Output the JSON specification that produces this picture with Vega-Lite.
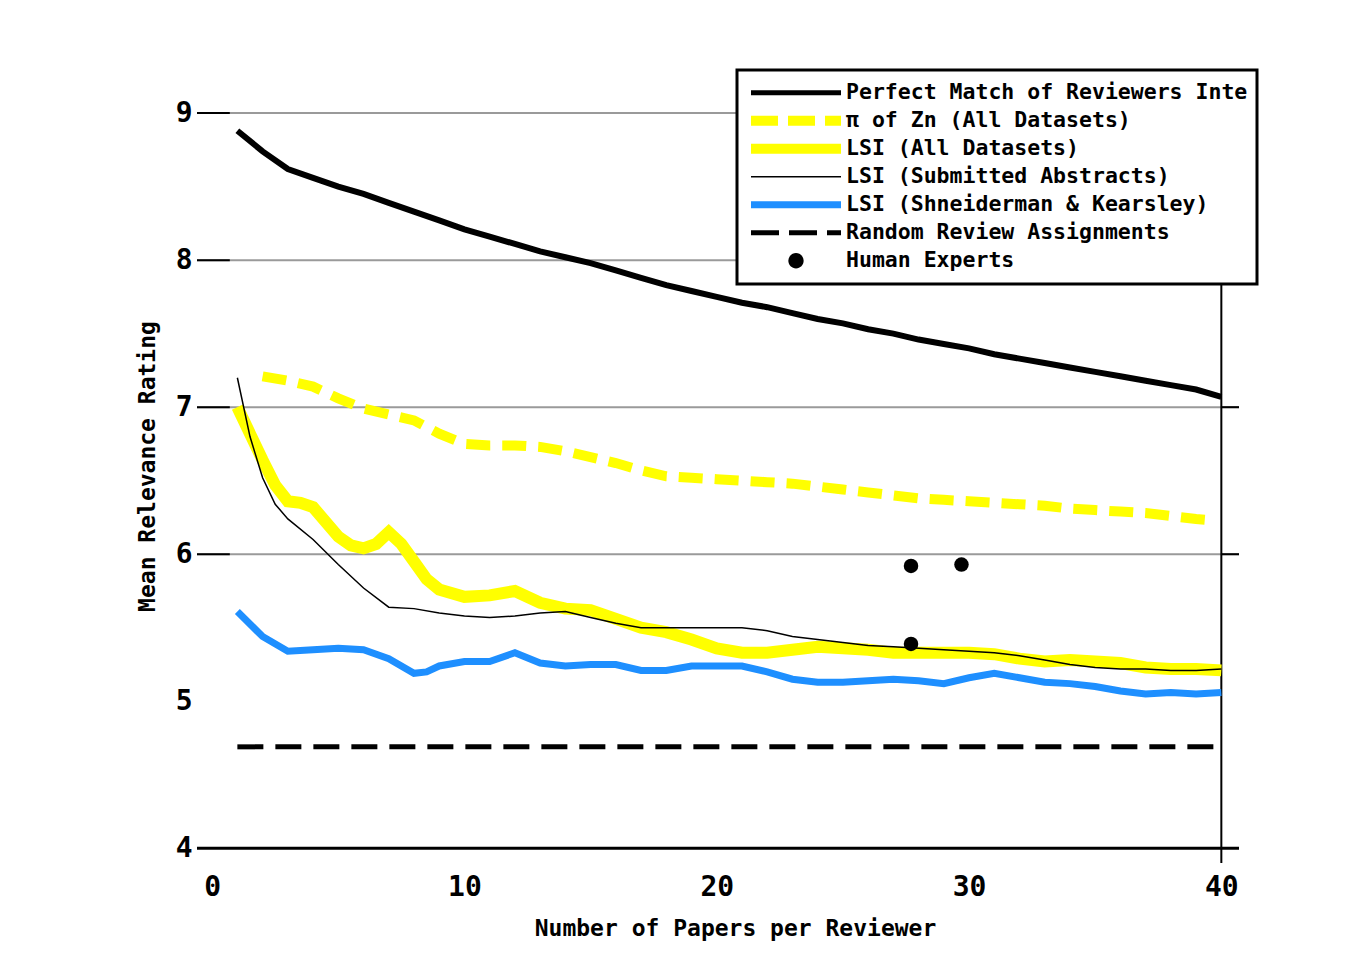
{
  "$schema": "https://vega.github.io/schema/vega-lite/v6.json",
  "width": 1042,
  "height": 794,
  "autosize": {"type": "none"},
  "padding": {"left": 197, "top": 69, "right": 128, "bottom": 94},
  "background": "white",
  "config": {"view": {"stroke": null}, "font": "DejaVu Sans Mono"},
  "datasets": {
    "grid": [{"y": 6}, {"y": 7}, {"y": 8}, {"y": 9}],
    "gridRight": [{"y": 6}, {"y": 7}],
    "perfect": [
      {"series": "Perfect Match of Reviewers Inte", "x": 1, "y": 8.88},
      {"series": "Perfect Match of Reviewers Inte", "x": 2, "y": 8.74},
      {"series": "Perfect Match of Reviewers Inte", "x": 3, "y": 8.62},
      {"series": "Perfect Match of Reviewers Inte", "x": 4, "y": 8.56},
      {"series": "Perfect Match of Reviewers Inte", "x": 5, "y": 8.5},
      {"series": "Perfect Match of Reviewers Inte", "x": 6, "y": 8.45},
      {"series": "Perfect Match of Reviewers Inte", "x": 7, "y": 8.39},
      {"series": "Perfect Match of Reviewers Inte", "x": 8, "y": 8.33},
      {"series": "Perfect Match of Reviewers Inte", "x": 9, "y": 8.27},
      {"series": "Perfect Match of Reviewers Inte", "x": 10, "y": 8.21},
      {"series": "Perfect Match of Reviewers Inte", "x": 11, "y": 8.16},
      {"series": "Perfect Match of Reviewers Inte", "x": 12, "y": 8.11},
      {"series": "Perfect Match of Reviewers Inte", "x": 13, "y": 8.06},
      {"series": "Perfect Match of Reviewers Inte", "x": 14, "y": 8.02},
      {"series": "Perfect Match of Reviewers Inte", "x": 15, "y": 7.98},
      {"series": "Perfect Match of Reviewers Inte", "x": 16, "y": 7.93},
      {"series": "Perfect Match of Reviewers Inte", "x": 17, "y": 7.88},
      {"series": "Perfect Match of Reviewers Inte", "x": 18, "y": 7.83},
      {"series": "Perfect Match of Reviewers Inte", "x": 19, "y": 7.79},
      {"series": "Perfect Match of Reviewers Inte", "x": 20, "y": 7.75},
      {"series": "Perfect Match of Reviewers Inte", "x": 21, "y": 7.71},
      {"series": "Perfect Match of Reviewers Inte", "x": 22, "y": 7.68},
      {"series": "Perfect Match of Reviewers Inte", "x": 23, "y": 7.64},
      {"series": "Perfect Match of Reviewers Inte", "x": 24, "y": 7.6},
      {"series": "Perfect Match of Reviewers Inte", "x": 25, "y": 7.57},
      {"series": "Perfect Match of Reviewers Inte", "x": 26, "y": 7.53},
      {"series": "Perfect Match of Reviewers Inte", "x": 27, "y": 7.5},
      {"series": "Perfect Match of Reviewers Inte", "x": 28, "y": 7.46},
      {"series": "Perfect Match of Reviewers Inte", "x": 29, "y": 7.43},
      {"series": "Perfect Match of Reviewers Inte", "x": 30, "y": 7.4},
      {"series": "Perfect Match of Reviewers Inte", "x": 31, "y": 7.36},
      {"series": "Perfect Match of Reviewers Inte", "x": 32, "y": 7.33},
      {"series": "Perfect Match of Reviewers Inte", "x": 33, "y": 7.3},
      {"series": "Perfect Match of Reviewers Inte", "x": 34, "y": 7.27},
      {"series": "Perfect Match of Reviewers Inte", "x": 35, "y": 7.24},
      {"series": "Perfect Match of Reviewers Inte", "x": 36, "y": 7.21},
      {"series": "Perfect Match of Reviewers Inte", "x": 37, "y": 7.18},
      {"series": "Perfect Match of Reviewers Inte", "x": 38, "y": 7.15},
      {"series": "Perfect Match of Reviewers Inte", "x": 39, "y": 7.12},
      {"series": "Perfect Match of Reviewers Inte", "x": 40, "y": 7.07}
    ],
    "pizn": [
      {"series": "π of Zn (All Datasets)", "x": 2, "y": 7.21},
      {"series": "π of Zn (All Datasets)", "x": 3, "y": 7.18},
      {"series": "π of Zn (All Datasets)", "x": 4, "y": 7.14},
      {"series": "π of Zn (All Datasets)", "x": 5, "y": 7.06},
      {"series": "π of Zn (All Datasets)", "x": 6, "y": 6.99},
      {"series": "π of Zn (All Datasets)", "x": 7, "y": 6.95},
      {"series": "π of Zn (All Datasets)", "x": 8, "y": 6.91},
      {"series": "π of Zn (All Datasets)", "x": 9, "y": 6.82},
      {"series": "π of Zn (All Datasets)", "x": 10, "y": 6.75},
      {"series": "π of Zn (All Datasets)", "x": 11, "y": 6.74},
      {"series": "π of Zn (All Datasets)", "x": 12, "y": 6.74},
      {"series": "π of Zn (All Datasets)", "x": 13, "y": 6.73},
      {"series": "π of Zn (All Datasets)", "x": 14, "y": 6.7},
      {"series": "π of Zn (All Datasets)", "x": 15, "y": 6.66},
      {"series": "π of Zn (All Datasets)", "x": 16, "y": 6.62},
      {"series": "π of Zn (All Datasets)", "x": 17, "y": 6.57},
      {"series": "π of Zn (All Datasets)", "x": 18, "y": 6.53},
      {"series": "π of Zn (All Datasets)", "x": 19, "y": 6.52},
      {"series": "π of Zn (All Datasets)", "x": 20, "y": 6.51},
      {"series": "π of Zn (All Datasets)", "x": 21, "y": 6.5},
      {"series": "π of Zn (All Datasets)", "x": 22, "y": 6.49},
      {"series": "π of Zn (All Datasets)", "x": 23, "y": 6.48},
      {"series": "π of Zn (All Datasets)", "x": 24, "y": 6.46},
      {"series": "π of Zn (All Datasets)", "x": 25, "y": 6.44},
      {"series": "π of Zn (All Datasets)", "x": 26, "y": 6.42},
      {"series": "π of Zn (All Datasets)", "x": 27, "y": 6.4},
      {"series": "π of Zn (All Datasets)", "x": 28, "y": 6.38},
      {"series": "π of Zn (All Datasets)", "x": 29, "y": 6.37},
      {"series": "π of Zn (All Datasets)", "x": 30, "y": 6.36},
      {"series": "π of Zn (All Datasets)", "x": 31, "y": 6.35},
      {"series": "π of Zn (All Datasets)", "x": 32, "y": 6.34},
      {"series": "π of Zn (All Datasets)", "x": 33, "y": 6.33},
      {"series": "π of Zn (All Datasets)", "x": 34, "y": 6.31},
      {"series": "π of Zn (All Datasets)", "x": 35, "y": 6.3},
      {"series": "π of Zn (All Datasets)", "x": 36, "y": 6.29},
      {"series": "π of Zn (All Datasets)", "x": 37, "y": 6.28},
      {"series": "π of Zn (All Datasets)", "x": 38, "y": 6.26},
      {"series": "π of Zn (All Datasets)", "x": 39, "y": 6.24},
      {"series": "π of Zn (All Datasets)", "x": 39.7, "y": 6.23}
    ],
    "lsiall": [
      {"series": "LSI (All Datasets)", "x": 1, "y": 7.0},
      {"series": "LSI (All Datasets)", "x": 2, "y": 6.64},
      {"series": "LSI (All Datasets)", "x": 2.5, "y": 6.47},
      {"series": "LSI (All Datasets)", "x": 3, "y": 6.36},
      {"series": "LSI (All Datasets)", "x": 3.5, "y": 6.35},
      {"series": "LSI (All Datasets)", "x": 4, "y": 6.32},
      {"series": "LSI (All Datasets)", "x": 4.5, "y": 6.22},
      {"series": "LSI (All Datasets)", "x": 5, "y": 6.12},
      {"series": "LSI (All Datasets)", "x": 5.5, "y": 6.06},
      {"series": "LSI (All Datasets)", "x": 6, "y": 6.04},
      {"series": "LSI (All Datasets)", "x": 6.5, "y": 6.07},
      {"series": "LSI (All Datasets)", "x": 7, "y": 6.15},
      {"series": "LSI (All Datasets)", "x": 7.5, "y": 6.07},
      {"series": "LSI (All Datasets)", "x": 8, "y": 5.95},
      {"series": "LSI (All Datasets)", "x": 8.5, "y": 5.83},
      {"series": "LSI (All Datasets)", "x": 9, "y": 5.76},
      {"series": "LSI (All Datasets)", "x": 10, "y": 5.71},
      {"series": "LSI (All Datasets)", "x": 11, "y": 5.72},
      {"series": "LSI (All Datasets)", "x": 12, "y": 5.75},
      {"series": "LSI (All Datasets)", "x": 13, "y": 5.67},
      {"series": "LSI (All Datasets)", "x": 14, "y": 5.63},
      {"series": "LSI (All Datasets)", "x": 15, "y": 5.62},
      {"series": "LSI (All Datasets)", "x": 16, "y": 5.56},
      {"series": "LSI (All Datasets)", "x": 17, "y": 5.5},
      {"series": "LSI (All Datasets)", "x": 18, "y": 5.47},
      {"series": "LSI (All Datasets)", "x": 19, "y": 5.42},
      {"series": "LSI (All Datasets)", "x": 20, "y": 5.36},
      {"series": "LSI (All Datasets)", "x": 21, "y": 5.33},
      {"series": "LSI (All Datasets)", "x": 22, "y": 5.33},
      {"series": "LSI (All Datasets)", "x": 23, "y": 5.35},
      {"series": "LSI (All Datasets)", "x": 24, "y": 5.37},
      {"series": "LSI (All Datasets)", "x": 25, "y": 5.36},
      {"series": "LSI (All Datasets)", "x": 26, "y": 5.35},
      {"series": "LSI (All Datasets)", "x": 27, "y": 5.33},
      {"series": "LSI (All Datasets)", "x": 28, "y": 5.33},
      {"series": "LSI (All Datasets)", "x": 29, "y": 5.33},
      {"series": "LSI (All Datasets)", "x": 30, "y": 5.33},
      {"series": "LSI (All Datasets)", "x": 31, "y": 5.32},
      {"series": "LSI (All Datasets)", "x": 32, "y": 5.29},
      {"series": "LSI (All Datasets)", "x": 33, "y": 5.27},
      {"series": "LSI (All Datasets)", "x": 34, "y": 5.28},
      {"series": "LSI (All Datasets)", "x": 35, "y": 5.27},
      {"series": "LSI (All Datasets)", "x": 36, "y": 5.26},
      {"series": "LSI (All Datasets)", "x": 37, "y": 5.23},
      {"series": "LSI (All Datasets)", "x": 38, "y": 5.22},
      {"series": "LSI (All Datasets)", "x": 39, "y": 5.22},
      {"series": "LSI (All Datasets)", "x": 40, "y": 5.21}
    ],
    "lsisub": [
      {"series": "LSI (Submitted Abstracts)", "x": 1, "y": 7.2},
      {"series": "LSI (Submitted Abstracts)", "x": 1.5, "y": 6.8},
      {"series": "LSI (Submitted Abstracts)", "x": 2, "y": 6.52},
      {"series": "LSI (Submitted Abstracts)", "x": 2.5, "y": 6.34},
      {"series": "LSI (Submitted Abstracts)", "x": 3, "y": 6.24},
      {"series": "LSI (Submitted Abstracts)", "x": 4, "y": 6.1},
      {"series": "LSI (Submitted Abstracts)", "x": 5, "y": 5.93},
      {"series": "LSI (Submitted Abstracts)", "x": 6, "y": 5.77},
      {"series": "LSI (Submitted Abstracts)", "x": 7, "y": 5.64},
      {"series": "LSI (Submitted Abstracts)", "x": 8, "y": 5.63},
      {"series": "LSI (Submitted Abstracts)", "x": 9, "y": 5.6},
      {"series": "LSI (Submitted Abstracts)", "x": 10, "y": 5.58},
      {"series": "LSI (Submitted Abstracts)", "x": 11, "y": 5.57},
      {"series": "LSI (Submitted Abstracts)", "x": 12, "y": 5.58},
      {"series": "LSI (Submitted Abstracts)", "x": 13, "y": 5.6},
      {"series": "LSI (Submitted Abstracts)", "x": 14, "y": 5.61},
      {"series": "LSI (Submitted Abstracts)", "x": 15, "y": 5.57},
      {"series": "LSI (Submitted Abstracts)", "x": 16, "y": 5.53},
      {"series": "LSI (Submitted Abstracts)", "x": 17, "y": 5.5},
      {"series": "LSI (Submitted Abstracts)", "x": 18, "y": 5.5},
      {"series": "LSI (Submitted Abstracts)", "x": 19, "y": 5.5},
      {"series": "LSI (Submitted Abstracts)", "x": 20, "y": 5.5},
      {"series": "LSI (Submitted Abstracts)", "x": 21, "y": 5.5},
      {"series": "LSI (Submitted Abstracts)", "x": 22, "y": 5.48},
      {"series": "LSI (Submitted Abstracts)", "x": 23, "y": 5.44},
      {"series": "LSI (Submitted Abstracts)", "x": 24, "y": 5.42},
      {"series": "LSI (Submitted Abstracts)", "x": 25, "y": 5.4},
      {"series": "LSI (Submitted Abstracts)", "x": 26, "y": 5.38},
      {"series": "LSI (Submitted Abstracts)", "x": 27, "y": 5.37},
      {"series": "LSI (Submitted Abstracts)", "x": 28, "y": 5.36},
      {"series": "LSI (Submitted Abstracts)", "x": 29, "y": 5.35},
      {"series": "LSI (Submitted Abstracts)", "x": 30, "y": 5.34},
      {"series": "LSI (Submitted Abstracts)", "x": 31, "y": 5.33},
      {"series": "LSI (Submitted Abstracts)", "x": 32, "y": 5.31},
      {"series": "LSI (Submitted Abstracts)", "x": 33, "y": 5.28},
      {"series": "LSI (Submitted Abstracts)", "x": 34, "y": 5.25},
      {"series": "LSI (Submitted Abstracts)", "x": 35, "y": 5.23},
      {"series": "LSI (Submitted Abstracts)", "x": 36, "y": 5.22},
      {"series": "LSI (Submitted Abstracts)", "x": 37, "y": 5.22},
      {"series": "LSI (Submitted Abstracts)", "x": 38, "y": 5.21},
      {"series": "LSI (Submitted Abstracts)", "x": 39, "y": 5.21},
      {"series": "LSI (Submitted Abstracts)", "x": 40, "y": 5.22}
    ],
    "lsishn": [
      {"series": "LSI (Shneiderman & Kearsley)", "x": 1, "y": 5.61},
      {"series": "LSI (Shneiderman & Kearsley)", "x": 2, "y": 5.44},
      {"series": "LSI (Shneiderman & Kearsley)", "x": 3, "y": 5.34},
      {"series": "LSI (Shneiderman & Kearsley)", "x": 4, "y": 5.35},
      {"series": "LSI (Shneiderman & Kearsley)", "x": 5, "y": 5.36},
      {"series": "LSI (Shneiderman & Kearsley)", "x": 6, "y": 5.35},
      {"series": "LSI (Shneiderman & Kearsley)", "x": 7, "y": 5.29},
      {"series": "LSI (Shneiderman & Kearsley)", "x": 8, "y": 5.19},
      {"series": "LSI (Shneiderman & Kearsley)", "x": 8.5, "y": 5.2},
      {"series": "LSI (Shneiderman & Kearsley)", "x": 9, "y": 5.24},
      {"series": "LSI (Shneiderman & Kearsley)", "x": 10, "y": 5.27},
      {"series": "LSI (Shneiderman & Kearsley)", "x": 11, "y": 5.27},
      {"series": "LSI (Shneiderman & Kearsley)", "x": 12, "y": 5.33},
      {"series": "LSI (Shneiderman & Kearsley)", "x": 13, "y": 5.26},
      {"series": "LSI (Shneiderman & Kearsley)", "x": 14, "y": 5.24},
      {"series": "LSI (Shneiderman & Kearsley)", "x": 15, "y": 5.25},
      {"series": "LSI (Shneiderman & Kearsley)", "x": 16, "y": 5.25},
      {"series": "LSI (Shneiderman & Kearsley)", "x": 17, "y": 5.21},
      {"series": "LSI (Shneiderman & Kearsley)", "x": 18, "y": 5.21},
      {"series": "LSI (Shneiderman & Kearsley)", "x": 19, "y": 5.24},
      {"series": "LSI (Shneiderman & Kearsley)", "x": 20, "y": 5.24},
      {"series": "LSI (Shneiderman & Kearsley)", "x": 21, "y": 5.24},
      {"series": "LSI (Shneiderman & Kearsley)", "x": 22, "y": 5.2},
      {"series": "LSI (Shneiderman & Kearsley)", "x": 23, "y": 5.15},
      {"series": "LSI (Shneiderman & Kearsley)", "x": 24, "y": 5.13},
      {"series": "LSI (Shneiderman & Kearsley)", "x": 25, "y": 5.13},
      {"series": "LSI (Shneiderman & Kearsley)", "x": 26, "y": 5.14},
      {"series": "LSI (Shneiderman & Kearsley)", "x": 27, "y": 5.15},
      {"series": "LSI (Shneiderman & Kearsley)", "x": 28, "y": 5.14},
      {"series": "LSI (Shneiderman & Kearsley)", "x": 29, "y": 5.12},
      {"series": "LSI (Shneiderman & Kearsley)", "x": 30, "y": 5.16},
      {"series": "LSI (Shneiderman & Kearsley)", "x": 31, "y": 5.19},
      {"series": "LSI (Shneiderman & Kearsley)", "x": 32, "y": 5.16},
      {"series": "LSI (Shneiderman & Kearsley)", "x": 33, "y": 5.13},
      {"series": "LSI (Shneiderman & Kearsley)", "x": 34, "y": 5.12},
      {"series": "LSI (Shneiderman & Kearsley)", "x": 35, "y": 5.1},
      {"series": "LSI (Shneiderman & Kearsley)", "x": 36, "y": 5.07},
      {"series": "LSI (Shneiderman & Kearsley)", "x": 37, "y": 5.05},
      {"series": "LSI (Shneiderman & Kearsley)", "x": 38, "y": 5.06},
      {"series": "LSI (Shneiderman & Kearsley)", "x": 39, "y": 5.05},
      {"series": "LSI (Shneiderman & Kearsley)", "x": 40, "y": 5.06}
    ],
    "random": [
      {"series": "Random Review Assignments", "x": 1, "y": 4.69},
      {"series": "Random Review Assignments", "x": 40, "y": 4.69}
    ],
    "experts": [
      {"series": "Human Experts", "x": 27.7, "y": 5.92},
      {"series": "Human Experts", "x": 29.7, "y": 5.93},
      {"series": "Human Experts", "x": 27.7, "y": 5.39}
    ]
  },
  "layer": [
    {
      "data": {"name": "grid"},
      "mark": {"type": "rule", "color": "#9a9a9a", "strokeWidth": 2},
      "encoding": {
        "y": {
          "field": "y", "type": "quantitative",
          "scale": {"domain": [3.9, 9.3], "nice": false, "zero": false},
          "axis": {
            "values": [4, 5, 6, 7, 8, 9], "format": "d", "domain": false, "ticks": false, "grid": false,
            "labelFont": "DejaVu Sans Mono", "labelFontSize": 28, "labelFontWeight": "bold",
            "labelColor": "black", "labelPadding": 5,
            "title": "Mean Relevance Rating", "titleFont": "DejaVu Sans Mono", "titleFontSize": 23,
            "titleFontWeight": "bold", "titleColor": "black", "titleX": -50, "titleY": 397,
            "titleAngle": -90, "titleBaseline": "middle", "titleAlign": "center"
          }
        }
      }
    },
    {
      "data": {"name": "grid"},
      "mark": {"type": "rule", "color": "black", "strokeWidth": 2},
      "encoding": {
        "y": {"field": "y", "type": "quantitative"},
        "x": {"datum": -0.6, "type": "quantitative"},
        "x2": {"datum": 0.7}
      }
    },
    {
      "data": {"name": "gridRight"},
      "mark": {"type": "rule", "color": "black", "strokeWidth": 2},
      "encoding": {
        "y": {"field": "y", "type": "quantitative"},
        "x": {"datum": 40, "type": "quantitative"},
        "x2": {"datum": 40.7}
      }
    },
    {
      "data": {"values": [{}]},
      "mark": {"type": "rule", "color": "black", "strokeWidth": 3},
      "encoding": {"y": {"datum": 4, "type": "quantitative"}}
    },
    {
      "data": {"values": [{}]},
      "mark": {"type": "rule", "color": "black", "strokeWidth": 2},
      "encoding": {"x": {"datum": 40, "type": "quantitative"}}
    },
    {
      "data": {"name": "pizn"},
      "mark": {"type": "line", "strokeWidth": 10, "strokeDash": [24, 12], "strokeCap": "butt"},
      "encoding": {
        "x": {
          "field": "x", "type": "quantitative",
          "scale": {"domain": [-0.6, 40.7], "nice": false, "zero": false},
          "axis": {
            "values": [0, 10, 20, 30, 40], "format": "d", "domain": false, "ticks": false, "grid": false,
            "labelFont": "DejaVu Sans Mono", "labelFontSize": 28, "labelFontWeight": "bold",
            "labelColor": "black", "labelPadding": 10,
            "title": "Number of Papers per Reviewer", "titleFont": "DejaVu Sans Mono", "titleFontSize": 23,
            "titleFontWeight": "bold", "titleColor": "black", "titleX": 538, "titleY": 65,
            "titleBaseline": "middle", "titleAlign": "center"
          }
        },
        "y": {"field": "y", "type": "quantitative"},
        "color": {
          "field": "series", "type": "nominal",
          "scale": {
            "domain": ["Perfect Match of Reviewers Inte", "π of Zn (All Datasets)", "LSI (All Datasets)", "LSI (Submitted Abstracts)", "LSI (Shneiderman & Kearsley)", "Random Review Assignments", "Human Experts"],
            "range": ["black", "#ffff00", "#ffff00", "black", "#1e8fff", "black", "black"]
          },
          "legend": {
            "title": null, "orient": "none", "legendX": 540, "legendY": 1,
            "padding": 9, "strokeColor": "black", "fillColor": "white",
            "symbolSize": 8100, "clipHeight": 27.5, "rowPadding": 0, "labelOffset": 0,
            "labelFont": "DejaVu Sans Mono", "labelFontSize": 21.5, "labelFontWeight": "bold",
            "labelColor": "black", "labelLimit": 800, "symbolType": "stroke",
            "encode": {
              "legend": {"update": {"strokeWidth": {"value": 3}}},
              "symbols": {
                "update": {
                  "shape": {"signal": "datum.index === 6 ? 'M-0.17,0A0.17,0.17,0,1,0,0.17,0A0.17,0.17,0,1,0,-0.17,0Z' : 'stroke'"},
                  "size": {"value": 8100},
                  "strokeWidth": {"signal": "[5,10,10,1.5,7,5,0][indexof(['Perfect Match of Reviewers Inte','π of Zn (All Datasets)','LSI (All Datasets)','LSI (Submitted Abstracts)','LSI (Shneiderman & Kearsley)','Random Review Assignments','Human Experts'], isString(datum) ? datum : datum.value)]"},
                  "strokeDash": {"signal": "[[1,0],[27,10],[1,0],[1,0],[1,0],[28,10],[1,0]][datum.index]"},
                  "fill": {"signal": "datum.index === 6 ? 'black' : 'transparent'"},
                  "stroke": {"signal": "['black','#ffff00','#ffff00','black','#1e8fff','black','black'][datum.index]"},
                  "opacity": {"value": 1}
                }
              }
            }
          }
        }
      }
    },
    {
      "data": {"name": "lsiall"},
      "mark": {"type": "line", "strokeWidth": 12},
      "encoding": {
        "x": {"field": "x", "type": "quantitative"},
        "y": {"field": "y", "type": "quantitative"},
        "color": {"field": "series", "type": "nominal"}
      }
    },
    {
      "data": {"name": "lsishn"},
      "mark": {"type": "line", "strokeWidth": 7},
      "encoding": {
        "x": {"field": "x", "type": "quantitative"},
        "y": {"field": "y", "type": "quantitative"},
        "color": {"field": "series", "type": "nominal"}
      }
    },
    {
      "data": {"name": "lsisub"},
      "mark": {"type": "line", "strokeWidth": 1.5},
      "encoding": {
        "x": {"field": "x", "type": "quantitative"},
        "y": {"field": "y", "type": "quantitative"},
        "color": {"field": "series", "type": "nominal"}
      }
    },
    {
      "data": {"name": "perfect"},
      "mark": {"type": "line", "strokeWidth": 6},
      "encoding": {
        "x": {"field": "x", "type": "quantitative"},
        "y": {"field": "y", "type": "quantitative"},
        "color": {"field": "series", "type": "nominal"}
      }
    },
    {
      "data": {"name": "random"},
      "mark": {"type": "line", "strokeWidth": 5, "strokeDash": [26, 12], "strokeCap": "butt"},
      "encoding": {
        "x": {"field": "x", "type": "quantitative"},
        "y": {"field": "y", "type": "quantitative"},
        "color": {"field": "series", "type": "nominal"}
      }
    },
    {
      "data": {"name": "experts"},
      "mark": {"type": "point", "filled": true, "size": 210, "opacity": 1},
      "encoding": {
        "x": {"field": "x", "type": "quantitative"},
        "y": {"field": "y", "type": "quantitative"},
        "color": {"field": "series", "type": "nominal"}
      }
    }
  ]
}
